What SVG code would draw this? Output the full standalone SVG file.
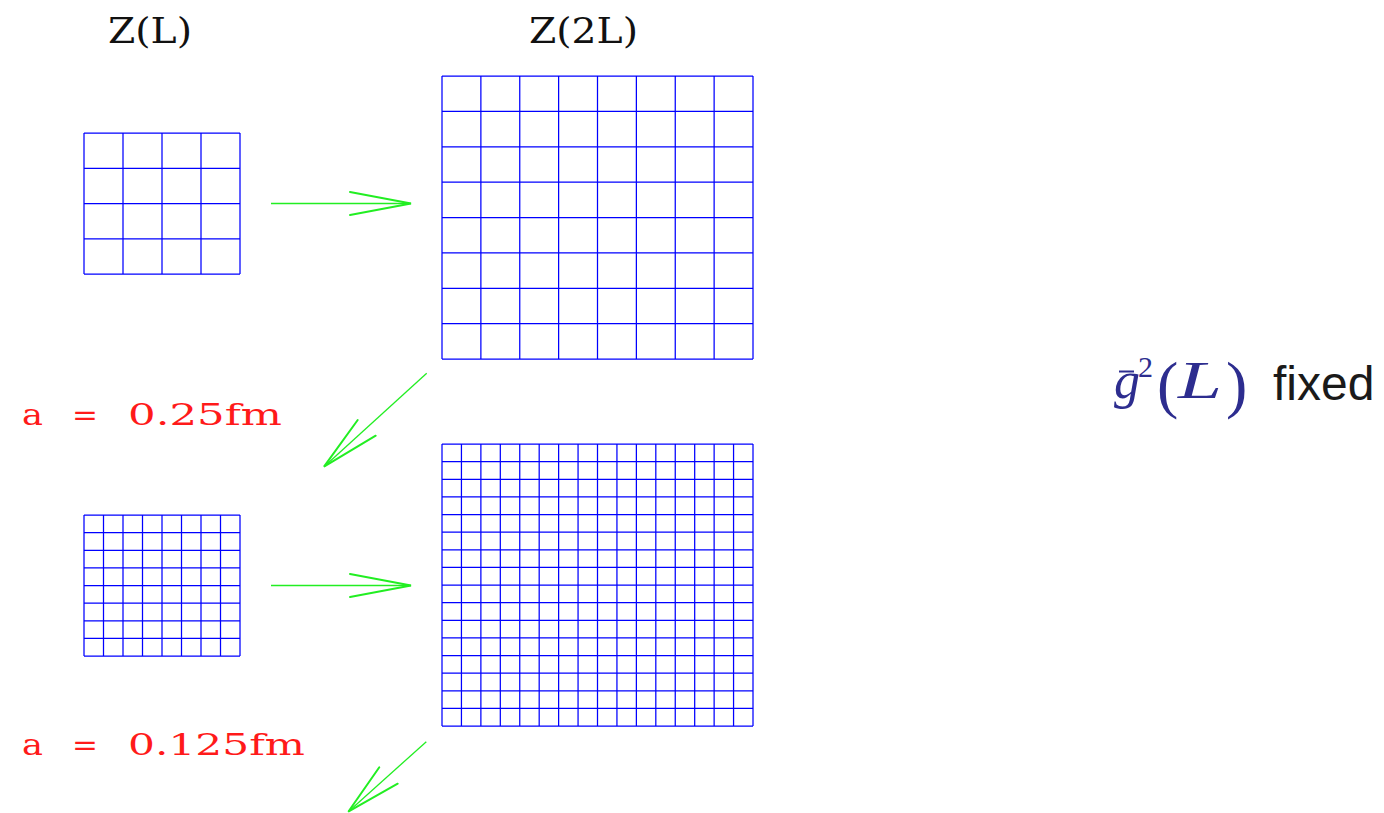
<svg xmlns="http://www.w3.org/2000/svg" width="1384" height="813" viewBox="0 0 1384 813">
  <style>
    .grid { fill: none; stroke: #0000ff; stroke-width: 1.25; }
    .shaft { fill: none; stroke: #22ee22; stroke-width: 1.3; }
    .barb { fill: none; stroke: #22ee22; stroke-width: 2; stroke-linecap: round; }
    .title { font-family: "DejaVu Serif", "Liberation Serif", serif; font-size: 36px; fill: #111; }
    .spacing { font-family: "DejaVu Serif", "Liberation Serif", serif; font-size: 30px; fill: #ff1a1a; }
    .math { font-family: "Liberation Serif", "DejaVu Serif", serif; font-style: italic; fill: #2d2d8f; }
    .mathup { font-family: "Liberation Serif", "DejaVu Serif", serif; fill: #2d2d8f; }
    .word { font-family: "Liberation Sans", "DejaVu Sans", sans-serif; font-size: 48px; fill: #1a1a1a; }
  </style>

  <rect width="1384" height="813" fill="#ffffff"/>

  <!-- column headings -->
  <g id="label-ZL"><text class="title" x="108" y="43" textLength="84" lengthAdjust="spacingAndGlyphs">Z(L)</text></g>
  <g id="label-Z2L"><text class="title" x="529" y="43" textLength="109" lengthAdjust="spacingAndGlyphs">Z(2L)</text></g>

  <!-- coarse lattice, size L (4x4) -->
  <g id="lattice-L-coarse">
    <path class="grid" d="M84 133V274M123 133V274M162 133V274M201 133V274M240 133V274
      M84 133H240M84 168.25H240M84 203.5H240M84 238.75H240M84 274H240"/>
  </g>

  <!-- coarse lattice, size 2L (8x8) -->
  <g id="lattice-2L-coarse">
    <path class="grid" d="M442 76V359M480.875 76V359M519.75 76V359M558.625 76V359M597.5 76V359M636.375 76V359M675.25 76V359M714.125 76V359M753 76V359
      M442 76H753M442 111.375H753M442 146.75H753M442 182.125H753M442 217.5H753M442 252.875H753M442 288.25H753M442 323.625H753M442 359H753"/>
  </g>

  <!-- fine lattice, size L (8x8) -->
  <g id="lattice-L-fine">
    <path class="grid" d="M84 515V656M103.5 515V656M123 515V656M142.5 515V656M162 515V656M181.5 515V656M201 515V656M220.5 515V656M240 515V656
      M84 515H240M84 532.625H240M84 550.25H240M84 567.875H240M84 585.5H240M84 603.125H240M84 620.75H240M84 638.375H240M84 656H240"/>
  </g>

  <!-- fine lattice, size 2L (16x16) -->
  <g id="lattice-2L-fine">
    <path class="grid" d="M442 444V726M461.44 444V726M480.88 444V726M500.31 444V726M519.75 444V726M539.19 444V726M558.63 444V726M578.06 444V726M597.5 444V726M616.94 444V726M636.38 444V726M655.81 444V726M675.25 444V726M694.69 444V726M714.13 444V726M733.56 444V726M753 444V726
      M442 444H753M442 461.63H753M442 479.25H753M442 496.88H753M442 514.5H753M442 532.13H753M442 549.75H753M442 567.38H753M442 585H753M442 602.63H753M442 620.25H753M442 637.88H753M442 655.5H753M442 673.13H753M442 690.75H753M442 708.38H753M442 726H753"/>
  </g>

  <!-- lattice spacings -->
  <g id="spacing-025">
    <text class="spacing" x="22" y="425" textLength="21" lengthAdjust="spacingAndGlyphs">a</text>
    <text class="spacing" x="72" y="425" textLength="26" lengthAdjust="spacingAndGlyphs">=</text>
    <text class="spacing" x="128" y="425" textLength="154" lengthAdjust="spacingAndGlyphs">0.25fm</text>
  </g>
  <g id="spacing-0125">
    <text class="spacing" x="22" y="755" textLength="21" lengthAdjust="spacingAndGlyphs">a</text>
    <text class="spacing" x="72" y="755" textLength="26" lengthAdjust="spacingAndGlyphs">=</text>
    <text class="spacing" x="128" y="755" textLength="177" lengthAdjust="spacingAndGlyphs">0.125fm</text>
  </g>

  <!-- condition: running coupling held fixed -->
  <g id="condition">
    <text class="math" x="1114" y="398" font-size="52">g</text>
    <path d="M1119 371.5H1134" stroke="#2d2d8f" stroke-width="2"/>
    <text class="mathup" x="1138" y="377" font-size="30">2</text>
    <text class="mathup" x="1157" y="406" font-size="64">(</text>
    <text class="math" x="1178" y="398" font-size="53" textLength="44" lengthAdjust="spacingAndGlyphs">L</text>
    <text class="mathup" x="1226" y="406" font-size="64">)</text>
    <text class="word" x="1273" y="400">fixed</text>
  </g>

  <!-- connectors -->
  <g id="connectors">
    <path class="shaft" d="M271 203.5H411"/>
    <path class="barb" d="M350 192L411 203.5L350 215"/>

    <path class="shaft" d="M271 585.5H411"/>
    <path class="barb" d="M350 574L411 585.5L350 597"/>

    <path class="shaft" d="M426.7 373.3L324 466.7"/>
    <path class="barb" d="M357.7 420L324 466.7L375.7 435.7"/>

    <path class="shaft" d="M426.3 741.7L348.3 811.7"/>
    <path class="barb" d="M379.3 767.3L348.3 811.7L397.7 783.7"/>
  </g>
</svg>
